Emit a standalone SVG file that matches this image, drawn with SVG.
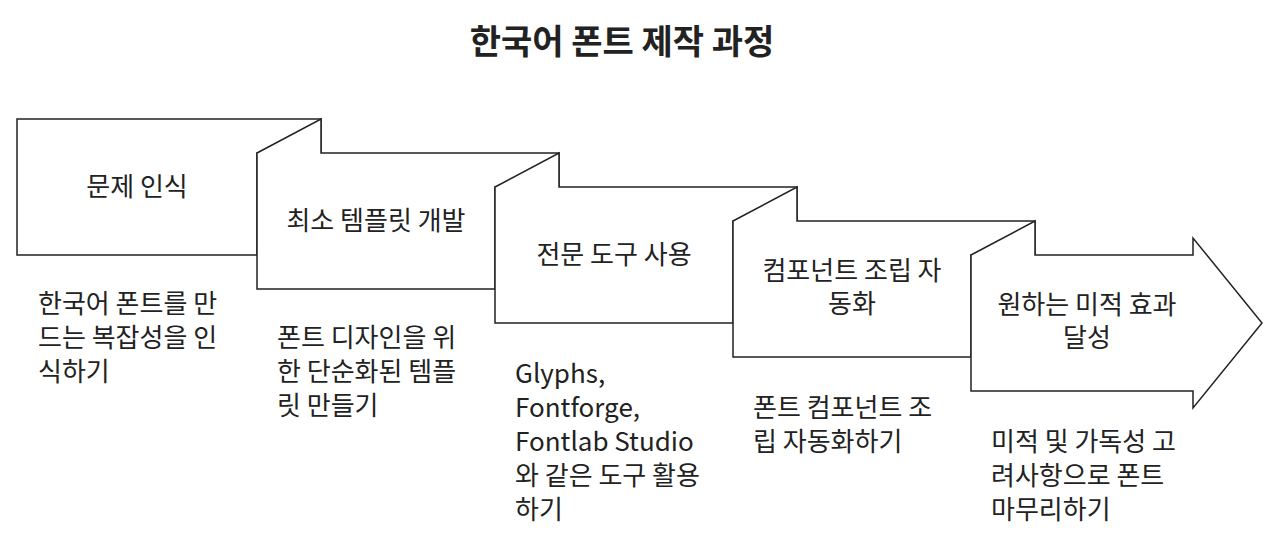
<svg xmlns="http://www.w3.org/2000/svg" width="1280" height="545" viewBox="0 0 1280 545">
<style>
text{font-family:"Noto Sans CJK KR","Liberation Sans",sans-serif;fill:#222;font-size:26px}
.t{font-size:34px;font-weight:bold;text-anchor:middle}
.c{text-anchor:middle}
.p{fill:#fff;stroke:#222;stroke-width:1.5}
</style>
<rect width="1280" height="545" fill="#fff"/>
<text class="t" x="622" y="54">한국어 폰트 제작 과정</text>
<g id="connectors"></g>
<g id="n1"><path class="p" d="M17 119 H321 V153 H257 V255 H17 Z"/><text class="c" x="137" y="196">문제 인식</text>
<text x="38" y="313">한국어 폰트를 만</text><text x="38" y="347">드는 복잡성을 인</text><text x="38" y="381">식하기</text></g>
<g id="n2"><path class="p" d="M257 153 L321 119 V153 H559 V187 H495 V289 H257 Z"/><text class="c" x="376" y="230">최소 템플릿 개발</text>
<text x="277" y="347">폰트 디자인을 위</text><text x="277" y="381">한 단순화된 템플</text><text x="277" y="415">릿 만들기</text></g>
<g id="n3"><path class="p" d="M495 187 L559 153 V187 H797 V221 H733 V323 H495 Z"/><text class="c" x="614" y="264">전문 도구 사용</text>
<text x="515" y="383">Glyphs,</text><text x="515" y="417">Fontforge,</text><text x="515" y="451">Fontlab Studio</text><text x="515" y="485">와 같은 도구 활용</text><text x="515" y="519">하기</text></g>
<g id="n4"><path class="p" d="M733 221 L797 187 V221 H1035 V255 H971 V357 H733 Z"/><text class="c" x="852" y="280">컴포넌트 조립 자</text><text class="c" x="852" y="313">동화</text>
<text x="753" y="417">폰트 컴포넌트 조</text><text x="753" y="451">립 자동화하기</text></g>
<g id="n5"><path class="p" d="M971 255 L1035 221 V255 H1193 V238 L1262 323 L1193 408 V391 H971 Z"/><text class="c" x="1087" y="314">원하는 미적 효과</text><text class="c" x="1087" y="347">달성</text>
<text x="991" y="451">미적 및 가독성 고</text><text x="991" y="485">려사항으로 폰트</text><text x="991" y="519">마무리하기</text></g>
</svg>
